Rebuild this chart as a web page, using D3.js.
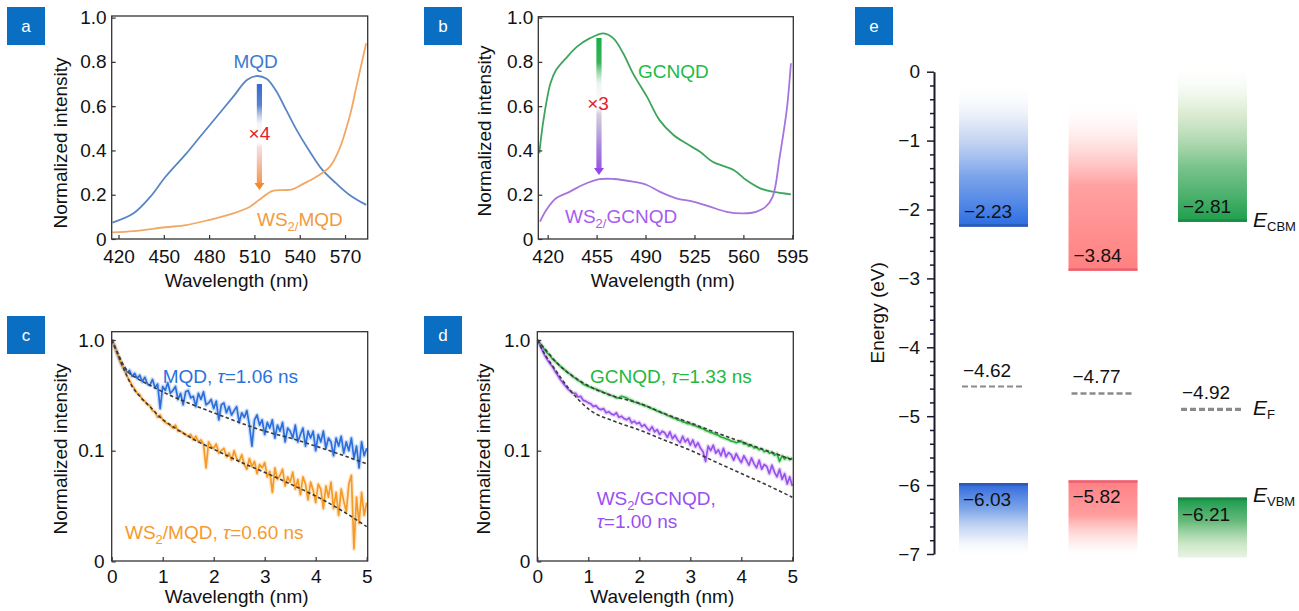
<!DOCTYPE html>
<html>
<head>
<meta charset="utf-8">
<script src="https://cdn.jsdelivr.net/npm/d3@7"></script>
<style>
body { margin: 0; background: #fff; }
svg { font-family: "Liberation Sans", Arial, sans-serif; }
</style>
</head>
<body>
<svg id="fig" width="1299" height="611"></svg>
<script>
// ---- panel a : PL spectra (wavelength nm, normalized intensity)
var aMqdWl = [416, 430, 441, 451, 465, 474, 485, 496, 505, 511, 518, 524, 531, 538, 546, 555, 564, 573, 584];
var aMqdVal = [0.074, 0.116, 0.19, 0.28, 0.387, 0.462, 0.552, 0.643, 0.718, 0.736, 0.724, 0.673, 0.583, 0.492, 0.402, 0.312, 0.252, 0.199, 0.154];
var aWsWl = [416, 430, 451, 465, 480, 496, 507, 513, 522, 529, 535, 542, 551, 560, 566, 573, 578, 584];
var aWsVal = [0.03, 0.036, 0.053, 0.063, 0.086, 0.116, 0.146, 0.176, 0.217, 0.221, 0.224, 0.248, 0.281, 0.327, 0.402, 0.552, 0.703, 0.884];
var aXTicks = [420, 450, 480, 510, 540, 570];

// ---- panel b
var bGcnWl = [414, 417, 422, 426, 434, 441, 450, 460, 467, 474, 481, 491, 500, 510, 519, 529, 538, 553, 562, 572, 581, 594];
var bGcnVal = [0.387, 0.537, 0.703, 0.763, 0.823, 0.869, 0.906, 0.929, 0.906, 0.839, 0.748, 0.643, 0.537, 0.47, 0.432, 0.394, 0.349, 0.312, 0.266, 0.229, 0.214, 0.202];
var bWsWl = [414.5, 419, 426, 436, 445, 457, 467, 481, 491, 500, 512, 524, 536, 548, 560, 569, 576, 581, 586, 591, 594];
var bWsVal = [0.078, 0.131, 0.184, 0.214, 0.244, 0.27, 0.271, 0.259, 0.244, 0.214, 0.184, 0.169, 0.146, 0.123, 0.116, 0.123, 0.146, 0.191, 0.372, 0.583, 0.794];
var bXTicks = [420, 455, 490, 525, 560, 595];

var specYTicks = [0, 0.2, 0.4, 0.6, 0.8, 1.0];
var specYLabels = ["0", "0.2", "0.4", "0.6", "0.8", "1.0"];

// ---- panels c, d : decay curves sampled every tStep
var tStep = 0.05;
var cMqd = [1.00, 0.90, 0.77, 0.67, 0.59, 0.55, 0.51, 0.53, 0.47, 0.50,
    0.45, 0.48, 0.42, 0.46, 0.40, 0.39, 0.44, 0.37, 0.40, 0.24,
    0.38, 0.35, 0.41, 0.33, 0.35, 0.38, 0.29, 0.33, 0.26, 0.34,
    0.35, 0.30, 0.31, 0.25, 0.33, 0.29, 0.34, 0.26, 0.27, 0.29,
    0.24, 0.28, 0.19, 0.26, 0.27, 0.22, 0.25, 0.21, 0.23, 0.25,
    0.18, 0.22, 0.20, 0.23, 0.17, 0.11, 0.19, 0.21, 0.17, 0.19,
    0.14, 0.18, 0.16, 0.19, 0.13, 0.17, 0.15, 0.18, 0.12, 0.16,
    0.15, 0.13, 0.17, 0.12, 0.14, 0.16, 0.11, 0.15, 0.13, 0.15,
    0.10, 0.14, 0.12, 0.15, 0.105, 0.13, 0.12, 0.09, 0.13, 0.11,
    0.135, 0.095, 0.12, 0.10, 0.13, 0.085, 0.11, 0.07, 0.12, 0.09,
    0.105];
var cWsMqd = [1.00, 0.88, 0.77, 0.68, 0.60, 0.53, 0.47, 0.43, 0.39, 0.36,
    0.33, 0.32, 0.29, 0.28, 0.26, 0.255, 0.23, 0.225, 0.20, 0.21,
    0.19, 0.18, 0.175, 0.17, 0.16, 0.17, 0.15, 0.15, 0.145, 0.14,
    0.135, 0.14, 0.125, 0.135, 0.12, 0.125, 0.115, 0.07, 0.12, 0.11,
    0.105, 0.115, 0.095, 0.10, 0.105, 0.088, 0.095, 0.082, 0.10, 0.085,
    0.08, 0.092, 0.075, 0.068, 0.085, 0.072, 0.08, 0.062, 0.075, 0.07,
    0.078, 0.058, 0.065, 0.042, 0.07, 0.055, 0.06, 0.068, 0.048, 0.058,
    0.052, 0.064, 0.045, 0.055, 0.04, 0.058, 0.05, 0.036, 0.052, 0.044,
    0.034, 0.05, 0.045, 0.03, 0.048, 0.038, 0.052, 0.03, 0.042, 0.026,
    0.045, 0.035, 0.028, 0.05, 0.06, 0.013, 0.038, 0.022, 0.042, 0.026,
    0.034];
var dGcn = [1.00, 0.94, 0.87, 0.81, 0.76, 0.72, 0.67, 0.64, 0.61, 0.58,
    0.555, 0.53, 0.505, 0.49, 0.465, 0.45, 0.43, 0.42, 0.40, 0.39,
    0.38, 0.375, 0.365, 0.36, 0.35, 0.345, 0.335, 0.33, 0.32, 0.315,
    0.31, 0.30, 0.30, 0.31, 0.305, 0.30, 0.29, 0.285, 0.275, 0.272,
    0.265, 0.262, 0.255, 0.252, 0.245, 0.24, 0.236, 0.228, 0.225, 0.218,
    0.216, 0.208, 0.205, 0.199, 0.196, 0.19, 0.188, 0.182, 0.18, 0.175,
    0.176, 0.17, 0.168, 0.164, 0.16, 0.158, 0.152, 0.15, 0.146, 0.144,
    0.14, 0.138, 0.133, 0.131, 0.128, 0.126, 0.122, 0.121, 0.118, 0.12,
    0.122, 0.115, 0.116, 0.11, 0.112, 0.106, 0.107, 0.102, 0.104, 0.098,
    0.10, 0.095, 0.097, 0.091, 0.094, 0.08, 0.09, 0.084, 0.087, 0.083,
    0.086];
var dWsGcn = [1.0, 0.9, 0.8, 0.72, 0.66, 0.61, 0.57, 0.52, 0.48, 0.44,
    0.41, 0.385, 0.36, 0.345, 0.33, 0.33, 0.305, 0.31, 0.285, 0.28,
    0.27, 0.265, 0.25, 0.255, 0.24, 0.235, 0.24, 0.22, 0.225, 0.215,
    0.21, 0.22, 0.2, 0.205, 0.195, 0.19, 0.198, 0.178, 0.185, 0.175,
    0.18, 0.165, 0.172, 0.16, 0.152, 0.165, 0.148, 0.155, 0.14, 0.15,
    0.145, 0.132, 0.148, 0.128, 0.138, 0.125, 0.118, 0.135, 0.12, 0.128,
    0.112, 0.125, 0.108, 0.118, 0.105, 0.098, 0.08, 0.11, 0.1, 0.112,
    0.095, 0.102, 0.09, 0.105, 0.088, 0.096, 0.092, 0.082, 0.094, 0.085,
    0.078, 0.09, 0.082, 0.074, 0.086, 0.076, 0.07, 0.082, 0.068, 0.075,
    0.072, 0.062, 0.074, 0.064, 0.058, 0.068, 0.055, 0.062, 0.05, 0.058,
    0.048];
// fitted decays (time, value)
var fitMqdT = [0, 0.1, 0.2, 0.3, 0.5, 0.75, 1, 1.5, 2, 2.5, 3, 3.5, 4, 4.5, 5];
var fitMqdV = [1, 0.8, 0.63, 0.53, 0.45, 0.39, 0.34, 0.27, 0.22, 0.18, 0.15, 0.13, 0.11, 0.092, 0.076];
var fitWsMqdT = [0, 0.1, 0.2, 0.3, 0.4, 0.55, 0.75, 0.95, 1.2, 1.4, 1.7, 2.06, 2.5, 3.04, 3.5, 4.02, 4.5, 5];
var fitWsMqdV = [1, 0.78, 0.6, 0.47, 0.38, 0.31, 0.25, 0.2, 0.165, 0.144, 0.12, 0.1, 0.08, 0.0625, 0.05, 0.0385, 0.029, 0.0206];
var fitGcnT = [0, 0.2, 0.39, 0.7, 1.03, 1.5, 2.0, 2.5, 3.02, 3.5, 3.99, 4.5, 5];
var fitGcnV = [1, 0.78, 0.616, 0.47, 0.379, 0.31, 0.268, 0.215, 0.177, 0.146, 0.121, 0.1, 0.083];
var fitWsGcnT = [0, 0.15, 0.31, 0.64, 1.03, 1.5, 2.0, 2.5, 3.02, 3.5, 3.99, 4.5, 5];
var fitWsGcnV = [1, 0.74, 0.574, 0.353, 0.233, 0.185, 0.154, 0.124, 0.1, 0.079, 0.0625, 0.049, 0.038];
var decayXTicks = [0, 1, 2, 3, 4, 5];
var decayYTicks = [0.01, 0.1, 1];
var decayYLabels = ["0", "0.1", "1.0"];

// ---- panel e : band levels (eV), drawn level and printed label
var eCols = ["MQD", "WS2", "GCNQD"];
var eBandTop = [-0.15, -0.41, 0.12];
var eCbm = [-2.25, -2.89, -2.18];
var eCbmLabel = ["\u22122.23", "\u22123.84", "\u22122.81"];
var eFermi = [-4.57, -4.67, -4.90];
var eFermiLabel = ["\u22124.62", "\u22124.77", "\u22124.92"];
var eVbm = [-5.97, -5.93, -6.18];
var eVbmLabel = ["\u22126.03", "\u22125.82", "\u22126.21"];
var eBandBottom = -7.05;
var eTicks = [0, -1, -2, -3, -4, -5, -6, -7];

var svg = d3.select("#fig");
var defs = svg.append("defs");
var FONT = 19;

function panelBox(x, y, letter) {
    svg.append("rect").attr("x", x).attr("y", y).attr("width", 38).attr("height", 38).attr("fill", "#0a6fc2");
    svg.append("text").attr("x", x + 19).attr("y", y + 25).attr("text-anchor", "middle")
        .attr("fill", "#fff").style("font-size", "17px").text(letter);
}

function clipFor(id, f) {
    defs.append("clipPath").attr("id", id).append("rect")
        .attr("x", f.l).attr("y", f.t).attr("width", f.r - f.l).attr("height", f.b - f.t);
    return "url(#" + id + ")";
}

//Draw frame, inward ticks and the axis titles of one plot panel
function drawAxes(f, x, y, xTicks, yTicks, yLabels, xPad, yPad, xTitleY, yTitleX, yTitleY) {
    var gx = svg.append("g").attr("transform", "translate(0," + f.b + ")")
        .call(d3.axisBottom(x).tickValues(xTicks).tickSizeInner(-4).tickSizeOuter(0).tickPadding(xPad)
            .tickFormat(d3.format("d")));
    var gy = svg.append("g").attr("transform", "translate(" + f.l + ",0)")
        .call(d3.axisLeft(y).tickValues(yTicks).tickSizeInner(-4).tickSizeOuter(0).tickPadding(yPad)
            .tickFormat(function (d, i) { return yLabels[i]; }));
    [gx, gy].forEach(function (g) {
        g.select(".domain").remove();
        g.style("color", "#333").attr("font-family", null).attr("font-size", null);
        g.selectAll("text").style("font-size", FONT + "px").attr("fill", "#111");
        g.selectAll("line").attr("stroke-width", 1.2);
    });
    svg.append("rect").attr("x", f.l).attr("y", f.t).attr("width", f.r - f.l).attr("height", f.b - f.t)
        .attr("fill", "none").attr("stroke", "#333").attr("stroke-width", 1.3);
    svg.append("text").attr("x", (f.l + f.r) / 2 - 3).attr("y", xTitleY).attr("text-anchor", "middle")
        .style("font-size", FONT + "px").attr("fill", "#111").text("Wavelength (nm)");
    svg.append("text").attr("transform", "translate(" + yTitleX + "," + yTitleY + ") rotate(-90)")
        .attr("text-anchor", "middle").style("font-size", FONT + "px").attr("fill", "#111")
        .text("Normalized intensity");
}

//Label with a subscript part, e.g. WS2/MQD
function subLabel(x, y, color, pre, sub, post, extra) {
    var t = svg.append("text").attr("x", x).attr("y", y).attr("fill", color).style("font-size", FONT + "px");
    t.append("tspan").text(pre);
    t.append("tspan").attr("dy", 5).style("font-size", "13px").text(sub);
    t.append("tspan").attr("dy", -5).text(post);
    if (extra) {
        extra(t);
    }
    return t;
}

function tauPart(value) {
    return function (t) {
        t.append("tspan").text(", ");
        t.append("tspan").style("font-style", "italic").text("\u03c4");
        t.append("tspan").text("=" + value + " ns");
    };
}

//Gradient arrow used in panels a and b
function gradArrow(id, xPix, y0, y1, stops, headColor) {
    var g = defs.append("linearGradient").attr("id", id).attr("gradientUnits", "userSpaceOnUse")
        .attr("x1", 0).attr("x2", 0).attr("y1", y0).attr("y2", y1);
    stops.forEach(function (s) {
        g.append("stop").attr("offset", s[0]).attr("stop-color", s[1]).attr("stop-opacity", s[2]);
    });
    svg.append("rect").attr("x", xPix - 2.6).attr("y", y0).attr("width", 5.2).attr("height", y1 - y0 - 6)
        .attr("fill", "url(#" + id + ")");
    svg.append("path").attr("d", "M" + (xPix - 5) + "," + (y1 - 7) + "L" + (xPix + 5) + "," + (y1 - 7) + "L" + xPix + "," + y1 + "Z")
        .attr("fill", headColor);
}

// ===================== panel a
var fA = {l: 111.7, r: 367.7, t: 16, b: 239};
var xA = d3.scaleLinear().domain([415.5, 585]).range([fA.l, fA.r]);
var yA = d3.scaleLinear().domain([0, 1]).range([239, 17.6]);
var specLine = function (x, y, wl) {
    return d3.line().curve(d3.curveCatmullRom).x(function (d, i) { return x(wl[i]); }).y(function (d) { return y(d); });
};
var clipA = clipFor("clipA", fA);
svg.append("path").attr("d", specLine(xA, yA, aMqdWl)(aMqdVal)).attr("clip-path", clipA)
    .attr("fill", "none").attr("stroke", "#5a86c6").attr("stroke-width", 1.8);
svg.append("path").attr("d", specLine(xA, yA, aWsWl)(aWsVal)).attr("clip-path", clipA)
    .attr("fill", "none").attr("stroke", "#f2a865").attr("stroke-width", 1.8);
drawAxes(fA, xA, yA, aXTicks, specYTicks, specYLabels, 10.5, 5, 287, 67, 143);
panelBox(7, 7, "a");
svg.append("text").attr("x", 233.5).attr("y", 68).attr("fill", "#3c7ad2").style("font-size", FONT + "px").text("MQD");
subLabel(257, 226, "#f39a40", "WS", "2/", "MQD");
var axA = xA(513.3);
gradArrow("arrA", axA, yA(0.70), yA(0.221), [
    [0, "#3568d2", 1], [0.2, "#4a74cc", 0.9], [0.37, "#8a98c8", 0.1], [0.55, "#e0a0a0", 0],
    [0.6, "#e2a2a0", 0.35], [0.8, "#f2a06a", 0.8], [1, "#f5892c", 1]], "#f5892c");
svg.append("text").attr("x", axA).attr("y", 140).attr("text-anchor", "middle").attr("fill", "#e8202a")
    .style("font-size", FONT + "px").text("\u00d74");

// ===================== panel b
var fB = {l: 538.3, r: 793.3, t: 16.7, b: 239};
var xB = d3.scaleLinear().domain([413.3, 595.7]).range([fB.l, fB.r]);
var yB = d3.scaleLinear().domain([0, 1]).range([239, 17.6]);
var clipB = clipFor("clipB", fB);
svg.append("path").attr("d", specLine(xB, yB, bGcnWl)(bGcnVal)).attr("clip-path", clipB)
    .attr("fill", "none").attr("stroke", "#3ea55c").attr("stroke-width", 1.8);
svg.append("path").attr("d", specLine(xB, yB, bWsWl)(bWsVal)).attr("clip-path", clipB)
    .attr("fill", "none").attr("stroke", "#a574dc").attr("stroke-width", 1.8);
drawAxes(fB, xB, yB, bXTicks, specYTicks, specYLabels, 10.5, 5, 287, 491, 131);
panelBox(424, 7, "b");
svg.append("text").attr("x", 638).attr("y", 78).attr("fill", "#22bb44").style("font-size", FONT + "px").text("GCNQD");
subLabel(565, 223, "#a65cf0", "WS", "2/", "GCNQD");
var axB = xB(456.7);
gradArrow("arrB", axB, yB(0.908), yB(0.289), [
    [0, "#1aae48", 1], [0.18, "#2ab04e", 0.95], [0.33, "#80c090", 0.15], [0.5, "#a090c0", 0],
    [0.56, "#9a90b8", 0.45], [0.8, "#9a6ad8", 0.85], [1, "#9548ea", 1]], "#9548ea");
svg.append("text").attr("x", axB - 1).attr("y", 110).attr("text-anchor", "middle").attr("fill", "#e8202a")
    .style("font-size", FONT + "px").text("\u00d73");

// ===================== decay panels
function noisy(x, y, vals, color, clip) {
    var line = d3.line().x(function (d, i) { return x(i * tStep); }).y(function (d) { return y(d); });
    svg.append("path").attr("d", line(vals)).attr("clip-path", clip).attr("fill", "none")
        .attr("stroke", color).attr("stroke-width", 4.5).attr("stroke-opacity", 0.22).attr("stroke-linejoin", "round");
    svg.append("path").attr("d", line(vals)).attr("clip-path", clip).attr("fill", "none")
        .attr("stroke", color).attr("stroke-width", 1.7).attr("stroke-linejoin", "round");
}
function fitLine(x, y, ts, vs, clip) {
    var line = d3.line().curve(d3.curveMonotoneX).x(function (d, i) { return x(ts[i]); }).y(function (d) { return y(d); });
    svg.append("path").attr("d", line(vs)).attr("clip-path", clip).attr("fill", "none")
        .attr("stroke", "#3a3a3a").attr("stroke-width", 1.6).attr("stroke-dasharray", "3.5,2.5");
}

// panel c
var fC = {l: 111.7, r: 367.7, t: 331.7, b: 561};
var xC = d3.scaleLinear().domain([0, 5]).range([111.7, 366.7]);
var yC = d3.scaleLog().domain([0.01, 1.19]).range([561.4, 331.6]);
var clipC = clipFor("clipC", fC);
noisy(xC, yC, cMqd, "#2b6fdc", clipC);
noisy(xC, yC, cWsMqd, "#f49a26", clipC);
fitLine(xC, yC, fitMqdT, fitMqdV, clipC);
fitLine(xC, yC, fitWsMqdT, fitWsMqdV, clipC);
drawAxes(fC, xC, yC, decayXTicks, decayYTicks, decayYLabels, 9, 7, 603, 67, 449);
panelBox(7, 316, "c");
var tc = svg.append("text").attr("x", 162.7).attr("y", 383).attr("fill", "#2b72dc").style("font-size", FONT + "px");
tc.append("tspan").text("MQD");
tauPart("1.06")(tc);
subLabel(125, 539, "#f59a2c", "WS", "2", "/MQD", tauPart("0.60"));

// panel d
var fD = {l: 537.3, r: 793.3, t: 331.7, b: 561};
var xD = d3.scaleLinear().domain([0, 5]).range([537.3, 792.3]);
var yD = d3.scaleLog().domain([0.01, 1.19]).range([561.4, 331.6]);
var clipD = clipFor("clipD", fD);
noisy(xD, yD, dGcn, "#2aae3a", clipD);
noisy(xD, yD, dWsGcn, "#9a52ee", clipD);
fitLine(xD, yD, fitGcnT, fitGcnV, clipD);
fitLine(xD, yD, fitWsGcnT, fitWsGcnV, clipD);
drawAxes(fD, xD, yD, decayXTicks, decayYTicks, decayYLabels, 9, 7, 603, 490, 449);
panelBox(424, 316, "d");
var td = svg.append("text").attr("x", 590).attr("y", 383).attr("fill", "#22b83e").style("font-size", FONT + "px");
td.append("tspan").text("GCNQD");
tauPart("1.33")(td);
subLabel(596.7, 505, "#9a4ff0", "WS", "2", "/GCNQD,");
var td2 = svg.append("text").attr("x", 596.7).attr("y", 528).attr("fill", "#9a4ff0").style("font-size", FONT + "px");
td2.append("tspan").style("font-style", "italic").text("\u03c4");
td2.append("tspan").text("=1.00 ns");

// ===================== panel e : energy diagram
panelBox(855, 7, "e");
var yE = d3.scaleLinear().domain([0, -7]).range([71.7, 554]);
var xE = d3.scaleBand().domain(eCols).range([938, 1268]).paddingInner(0.37).paddingOuter(0.192);
var colEdge = ["#2d55a8", "#e55a6c", "#158a40"];
var cbmStops = [
    [[0, "#ffffff", 0], [0.3, "#8aa6e0", 0.3], [0.65, "#4f86e4", 0.75], [1, "#2b6ce2", 1]],
    [[0, "#ffffff", 0], [0.25, "#ffb0b0", 0.35], [0.5, "#ff9090", 0.85], [1, "#ff8080", 1]],
    [[0, "#ffffff", 0], [0.3, "#b6d6a0", 0.45], [0.65, "#58b470", 0.8], [1, "#1c9e4c", 1]]
];
var vbmStops = [
    [[0, "#2b66dc", 1], [0.35, "#5c8ee2", 0.8], [0.7, "#a8c0ec", 0.4], [1, "#ffffff", 0]],
    [[0, "#ff7f86", 1], [0.45, "#ff8c8c", 0.85], [0.8, "#ffc0c0", 0.3], [1, "#ffffff", 0]],
    [[0, "#16984a", 1], [0.4, "#4cae64", 0.85], [0.8, "#a8d6a0", 0.55], [1, "#c8e6c0", 0.45]]
];
function vGrad(id, stops) {
    var g = defs.append("linearGradient").attr("id", id).attr("x1", 0).attr("x2", 0).attr("y1", 0).attr("y2", 1);
    stops.forEach(function (s) {
        g.append("stop").attr("offset", s[0]).attr("stop-color", s[1]).attr("stop-opacity", s[2]);
    });
    return "url(#" + id + ")";
}
var efStroke = [2, 2.6, 3.2];
eCols.forEach(function (c, i) {
    var x0 = xE(c), w = xE.bandwidth();
    // conduction band
    svg.append("rect").attr("x", x0).attr("y", yE(eBandTop[i])).attr("width", w)
        .attr("height", yE(eCbm[i]) - yE(eBandTop[i])).attr("fill", vGrad("cbm" + i, cbmStops[i]));
    svg.append("rect").attr("x", x0).attr("y", yE(eCbm[i]) - 2.5).attr("width", w).attr("height", 2.5)
        .attr("fill", colEdge[i]).attr("opacity", 0.8);
    // valence band
    svg.append("rect").attr("x", x0).attr("y", yE(eVbm[i])).attr("width", w)
        .attr("height", yE(eBandBottom) - yE(eVbm[i])).attr("fill", vGrad("vbm" + i, vbmStops[i]));
    svg.append("rect").attr("x", x0).attr("y", yE(eVbm[i])).attr("width", w).attr("height", 2.5)
        .attr("fill", colEdge[i]).attr("opacity", 0.8);
    // Fermi level
    svg.append("line").attr("x1", x0 + 3).attr("x2", x0 + w - 3).attr("y1", yE(eFermi[i])).attr("y2", yE(eFermi[i]))
        .attr("stroke", "#8a8a8a").attr("stroke-width", efStroke[i]).attr("stroke-dasharray", "6,3");
    // labels
    svg.append("text").attr("x", x0 + 5).attr("y", yE(eCbm[i]) - 9).style("font-size", FONT + "px").attr("fill", "#111").text(eCbmLabel[i]);
    svg.append("text").attr("x", x0 + 4).attr("y", yE(eFermi[i]) - 10).style("font-size", FONT + "px").attr("fill", "#111").text(eFermiLabel[i]);
    svg.append("text").attr("x", x0 + 4).attr("y", yE(eVbm[i]) + 23).style("font-size", FONT + "px").attr("fill", "#111").text(eVbmLabel[i]);
});

var minorE = d3.range(0, -7.01, -0.2).filter(function (d) { return Math.abs(d - Math.round(d)) > 0.01; });
var gEm = svg.append("g").attr("transform", "translate(934,0)")
    .call(d3.axisLeft(yE).tickValues(minorE).tickSize(4).tickFormat(""));
gEm.select(".domain").remove();
var gE = svg.append("g").attr("transform", "translate(934,0)")
    .call(d3.axisLeft(yE).tickValues(eTicks).tickSize(7).tickSizeOuter(0).tickPadding(7).tickFormat(d3.format("d")));
gE.select(".domain").attr("stroke-width", 2);
[gE, gEm].forEach(function (g) {
    g.style("color", "#1a1a2e").attr("font-family", null).attr("font-size", null);
    g.selectAll("line").attr("stroke-width", 1.5);
});
gE.selectAll("text").style("font-size", FONT + "px").attr("fill", "#111");
svg.append("text").attr("transform", "translate(884," + (yE(0) + yE(-7)) / 2 + ") rotate(-90)")
    .attr("text-anchor", "middle").style("font-size", FONT + "px").attr("fill", "#111").text("Energy (eV)");

function eLabel(y, sub) {
    var t = svg.append("text").attr("x", 1253).attr("y", y).attr("fill", "#111").style("font-size", "21px");
    t.append("tspan").style("font-style", "italic").text("E");
    t.append("tspan").attr("dy", 4).style("font-size", "13px").text(sub);
}
eLabel(yE(-2.255), "CBM");
eLabel(yE(-4.98), "F");
eLabel(yE(-6.25), "VBM");
</script>
</body>
</html>
